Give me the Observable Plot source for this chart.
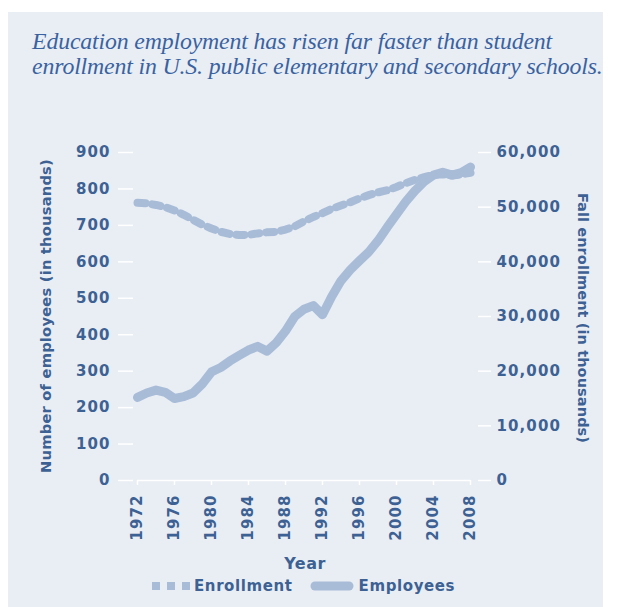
<!DOCTYPE html>
<html>
<head>
<meta charset="utf-8">
<script src="https://cdn.jsdelivr.net/npm/d3@7"></script>
<script src="https://cdn.jsdelivr.net/npm/@observablehq/plot@0.6"></script>
<style>
  html, body { margin: 0; padding: 0; background: #ffffff; }
  body { width: 621px; height: 607px; position: relative; overflow: hidden; }
  #panel { position: absolute; left: 8px; top: 12px; width: 595px; height: 595px; background: #e9eef5; }
  #title { position: absolute; left: 32px; top: 29px; font-family: "Liberation Serif", serif; font-style: italic; font-size: 23.8px; line-height: 25px; color: #3a62a0; white-space: nowrap; letter-spacing: -0.15px; }
  #chart { position: absolute; left: 8px; top: 130px; }
  .lab { position: absolute; font-family: "DejaVu Sans", sans-serif; font-weight: bold; font-size: 14.7px; color: #3d6193; white-space: nowrap; }
  #ylabL { left: 45px; top: 316px; transform: translate(-50%, -50%) rotate(-90deg); letter-spacing: 0.2px; }
  #ylabR { left: 583px; top: 318px; transform: translate(-50%, -50%) rotate(90deg); font-size: 14.5px; letter-spacing: 0.1px; }
  #xlab { left: 305px; top: 563px; transform: translate(-50%, -50%); font-size: 16px; letter-spacing: 0.5px; }
  #legend { position: absolute; left: 150px; top: 576px; height: 20px; display: flex; align-items: center; font-family: "DejaVu Sans", sans-serif; font-weight: bold; font-size: 15px; letter-spacing: 0.6px; color: #3d6193; }
  #legend svg { display: block; }
  #chart svg text { letter-spacing: 1.1px; }
</style>
</head>
<body>
<div id="panel"></div>
<div id="title">Education employment has risen far faster than student<br>enrollment in U.S. public elementary and secondary schools.</div>
<div id="chart"></div>
<div class="lab" id="ylabL">Number of employees (in thousands)</div>
<div class="lab" id="ylabR">Fall enrollment (in thousands)</div>
<div class="lab" id="xlab">Year</div>
<div id="legend"></div>
<script>
const years = [1972,1973,1974,1975,1976,1977,1978,1979,1980,1981,1982,1983,1984,1985,1986,1987,1988,1989,1990,
  1991,1992,1993,1994,1995,1996,1997,1998,1999,2000,2001,2002,2003,2004,2005,2006,2007,2008];
const employees = [228,240,248,242,225,230,240,265,298,310,328,343,358,368,355,378,410,450,470,
  480,455,505,548,578,603,627,658,695,730,765,795,820,838,846,838,845,860];
const enrollment = [50800,50700,50400,50000,49400,48600,47700,46800,46100,45500,45100,44900,44950,45200,45400,45500,45900,46500,47400,
  48200,48900,49700,50300,50900,51600,52200,52700,53100,53700,54400,55000,55500,55900,56000,55800,56000,56300];
const xTicks = [1972,1976,1980,1984,1988,1992,1996,2000,2004,2008];
const leftTicks = [0,100,200,300,400,500,600,700,800,900];
const rightTicks = [0,10000,20000,30000,40000,50000,60000];
const seriesNames = ["Enrollment", "Employees"];

const k = 900 / 60000;
const lineColor = "#a9bcd7";
const textColor = "#3d6193";
const data = years.map((y, i) => ({year: y, emp: employees[i], enr: enrollment[i]}));

const chart = Plot.plot({
  width: 595,
  height: 400,
  marginLeft: 125,
  marginRight: 126,
  marginTop: 22,
  marginBottom: 50,
  style: {background: "transparent", fontFamily: "DejaVu Sans", fontWeight: "bold", fontSize: "15px", color: textColor, overflow: "visible"},
  x: {domain: [1972, 2008], insetLeft: 4, insetRight: 7},
  y: {domain: [0, 900]},
  marks: [
    Plot.ruleY([0], {x1: 1972, x2: 2008, stroke: "white", strokeWidth: 1.5}),
    Plot.axisX({ticks: xTicks, tickFormat: d => String(d), tickRotate: -90, tickSize: 5, tickPadding: 9, stroke: "white", strokeWidth: 1.5, fill: textColor, label: null}),
    Plot.axisY({ticks: leftTicks, anchor: "left", tickSize: 15, tickPadding: 8, stroke: "white", strokeWidth: 1.5, fill: textColor, label: null}),
    Plot.axisY({ticks: rightTicks.map(v => v * k), anchor: "right", tickSize: 13, tickPadding: 6, stroke: "white", strokeWidth: 1.5, fill: textColor,
      tickFormat: d => d3.format(",")(Math.round(d / k)), label: null}),
    Plot.lineY(data, {x: "year", y: d => d.enr * k, stroke: lineColor, strokeWidth: 8, strokeDasharray: "8,7", strokeLinejoin: "round"}),
    Plot.lineY(data, {x: "year", y: "emp", stroke: lineColor, strokeWidth: 9, strokeLinecap: "round", strokeLinejoin: "round"})
  ]
});
document.getElementById("chart").appendChild(chart);

const legend = document.getElementById("legend");
legend.innerHTML =
  `<svg width="40" height="20"><line x1="2" x2="40" y1="10" y2="10" stroke="${lineColor}" stroke-width="8" stroke-dasharray="8,7"/></svg>` +
  `<span style="margin-left:4px">${seriesNames[0]}</span>` +
  `<svg width="46" height="20" style="margin-left:16px"><line x1="6" x2="40" y1="10" y2="10" stroke="${lineColor}" stroke-width="9" stroke-linecap="round"/></svg>` +
  `<span style="margin-left:4px">${seriesNames[1]}</span>`;
</script>
</body>
</html>
